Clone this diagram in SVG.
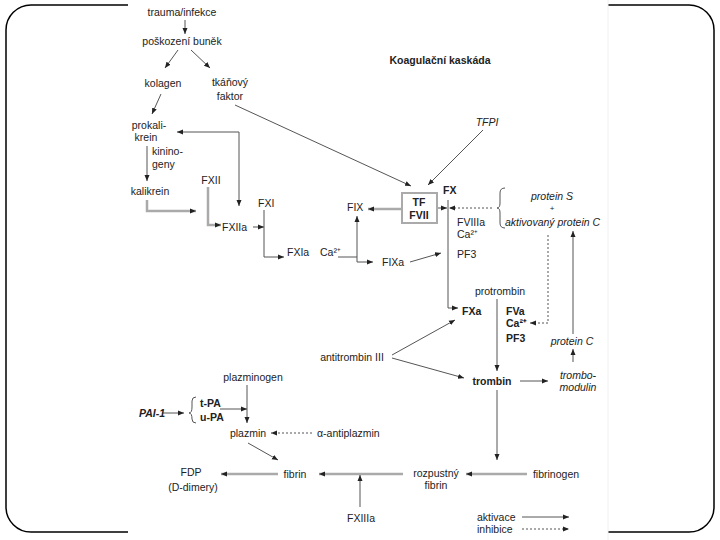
<svg xmlns="http://www.w3.org/2000/svg" width="720" height="540" viewBox="0 0 720 540">
<defs>
<style>
text{font-family:"Liberation Sans",Arial,sans-serif;font-size:10.5px;fill:#222}
.m{text-anchor:middle}
.b{font-weight:bold}
.i{font-style:italic}
.ln{stroke:#555;stroke-width:1;fill:none;marker-end:url(#ah)}
.th{stroke:#aaa;stroke-width:2.5;fill:none;marker-end:url(#ah)}
.dt{stroke-dasharray:2 2}
.pl{stroke:#555;stroke-width:1;fill:none}
</style>
<marker id="ah" viewBox="0 0 6 6" refX="6" refY="3" markerWidth="6" markerHeight="6" markerUnits="userSpaceOnUse" orient="auto-start-reverse"><path d="M0,0.5 L6,3 L0,5.5 z" fill="#222"/></marker>
</defs>
<rect x="6" y="5" width="708" height="527" rx="25" fill="#fff" stroke="#000" stroke-width="1.5"/>
<rect x="128" y="0" width="480" height="540" fill="#fff"/>
<line x1="608" y1="0" x2="608" y2="540" stroke="#f0f0f0" stroke-width="1"/>
<text class="m b" x="440" y="64">Koagulační kaskáda</text>
<g id="connectors">
<line class="ln" x1="185" y1="20" x2="185" y2="34"/>
<line class="ln" x1="178" y1="50" x2="165" y2="68"/>
<line class="ln" x1="191" y1="50" x2="210" y2="68"/>
<line class="ln" x1="161" y1="94" x2="152" y2="114"/>
<line class="ln" x1="235" y1="105" x2="411" y2="186"/>
<line class="ln" x1="483" y1="130" x2="428" y2="185"/>
<line class="ln" x1="147" y1="146" x2="147" y2="181"/>
<path class="ln" d="M177,132 H239 V206" marker-start="url(#ah)"/>
<path class="th" d="M147,200 V211 H196"/>
<path class="th" d="M208,187 V225 H221"/>
<line class="ln" x1="253" y1="227" x2="264" y2="227"/>
<path class="ln" d="M264,210 V257 H284"/>
<line class="pl" x1="338" y1="257" x2="357" y2="257"/>
<line class="ln" x1="357" y1="262" x2="357" y2="216"/>
<line class="ln" x1="357" y1="262" x2="373" y2="262"/>
<line class="th" x1="402" y1="209" x2="368" y2="209"/>
<line class="ln" x1="410" y1="262" x2="441" y2="253"/>
<line class="th" x1="437" y1="208" x2="447" y2="208" style="stroke-width:2"/>
<line class="ln dt" x1="492" y1="208" x2="449" y2="208"/>
<path class="ln" d="M448,200 V308 H458"/>
<path class="ln dt" d="M548,235 V323 H530"/>
<line class="ln" x1="573" y1="334" x2="573" y2="231"/>
<line class="ln" x1="573" y1="362" x2="573" y2="349"/>
<line class="ln" x1="497" y1="299" x2="497" y2="371"/>
<line class="ln" x1="392" y1="355" x2="455" y2="320"/>
<line class="ln" x1="392" y1="358" x2="464" y2="378"/>
<line class="ln" x1="520" y1="381" x2="548" y2="381"/>
<line class="ln" x1="497" y1="390" x2="497" y2="460"/>
<line class="th" x1="527" y1="474" x2="466" y2="474"/>
<line class="th" x1="403" y1="474" x2="319" y2="474"/>
<line class="ln" x1="360" y1="507" x2="360" y2="475"/>
<line class="th" x1="278" y1="474" x2="221" y2="474"/>
<line class="ln" x1="248" y1="443" x2="278" y2="460"/>
<line class="ln dt" x1="312" y1="433" x2="271" y2="433"/>
<line class="ln" x1="247" y1="385" x2="247" y2="423"/>
<line class="ln" x1="220" y1="409" x2="247" y2="409"/>
<line class="ln" x1="162" y1="413" x2="184" y2="413"/>
<path class="pl" d="M196,397 q-4,0 -4,4 v6 q0,6 -3,6 q3,0 3,6 v0 q0,4 4,4"/>
<path class="pl" d="M505,188 q-5,0 -5,5 v10 q0,5 -3,5 q3,0 3,5 v10 q0,5 5,5"/>
<line class="ln" x1="522" y1="517" x2="569" y2="517"/>
<line class="ln dt" x1="522" y1="529" x2="569" y2="529"/>
</g>
<g id="trauma"><text class="m" x="182" y="16">trauma/infekce</text></g>
<g id="poskozeni"><text class="m" x="182" y="45">poškození buněk</text></g>
<g id="kolagen"><text class="m" x="163" y="87">kolagen</text></g>
<g id="tkanovy"><text class="m" x="230" y="86">tkáňový</text><text class="m" x="230" y="100">faktor</text></g>
<g id="tfpi"><text class="m i" x="487" y="126">TFPI</text></g>
<g id="prokalikrein"><text class="m" x="149" y="129">prokali-</text><text class="m" x="146" y="141">krein</text></g>
<g id="kininogeny"><text x="152" y="155">kinino-</text><text x="152" y="168">geny</text></g>
<g id="kalikrein"><text class="m" x="150" y="195">kalikrein</text></g>
<g id="fxii"><text class="m" x="211" y="184">FXII</text></g>
<g id="fxiia"><text x="222" y="231">FXIIa</text></g>
<g id="fxi"><text x="258" y="207">FXI</text></g>
<g id="fxia"><text x="287" y="256">FXIa</text><text x="320" y="256">Ca²⁺</text></g>
<g id="fix"><text x="347" y="211">FIX</text></g>
<g id="tffvii"><rect x="402" y="193" width="35" height="30" fill="#fff" stroke="#aaa" stroke-width="2"/><text class="m b" x="419" y="206">TF</text><text class="m b" x="419" y="219">FVII</text></g>
<g id="fx"><text class="b" x="443" y="194">FX</text></g>
<g id="fixa"><text x="382" y="266">FIXa</text></g>
<g id="fviiia"><text x="457" y="226">FVIIIa</text><text x="457" y="238">Ca²⁺</text><text x="457" y="258">PF3</text></g>
<g id="proteinS"><text class="m i" x="552" y="200">protein S</text><text class="m" x="552" y="211" style="font-size:8px">+</text><text class="i" x="505" y="226">aktivovaný protein C</text></g>
<g id="protrombin"><text class="m" x="500" y="295">protrombin</text></g>
<g id="fxa"><text class="b" x="462" y="315">FXa</text></g>
<g id="fva"><text class="b" x="506" y="315">FVa</text><text class="b" x="506" y="327">Ca²⁺</text><text class="b" x="506" y="342">PF3</text></g>
<g id="proteinC"><text class="m i" x="572" y="345">protein C</text></g>
<g id="antitrombin"><text class="m" x="352" y="361">antitrombin III</text></g>
<g id="trombin"><text class="m b" x="492" y="385">trombin</text></g>
<g id="trombomodulin"><text class="m i" x="578" y="379">trombo-</text><text class="m i" x="578" y="391">modulin</text></g>
<g id="plazminogen"><text class="m" x="253" y="381">plazminogen</text></g>
<g id="pai1"><text class="b i" x="139" y="417">PAI-1</text></g>
<g id="tpa"><text class="b" x="200" y="407">t-PA</text><text class="b" x="200" y="421">u-PA</text></g>
<g id="plazmin"><text class="m" x="248" y="437">plazmin</text></g>
<g id="antiplazmin"><text x="317" y="437">α-antiplazmin</text></g>
<g id="fibrin"><text class="m" x="295" y="478">fibrin</text></g>
<g id="fdp"><text class="m" x="191" y="476">FDP</text><text class="m" x="193" y="491">(D-dimery)</text></g>
<g id="rozpustny"><text class="m" x="436" y="477">rozpustný</text><text class="m" x="436" y="489">fibrin</text></g>
<g id="fibrinogen"><text class="m" x="556" y="478">fibrinogen</text></g>
<g id="fxiiia"><text class="m" x="361" y="522">FXIIIa</text></g>
<g id="legend"><text x="477" y="521">aktivace</text><text x="477" y="533">inhibice</text></g>
</svg>
